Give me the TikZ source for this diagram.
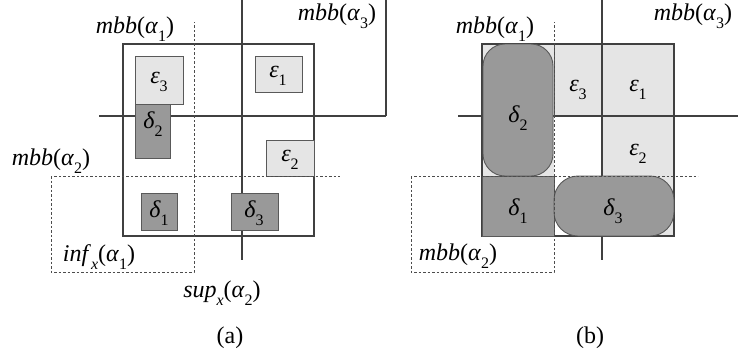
\documentclass[tikz,border=0pt]{standalone}
\usepackage{fontspec}
\setmainfont{Liberation Serif}
\newcommand{\gi}[1]{\textit{#1}}
\newcommand{\sbs}[1]{\raisebox{-0.33em}{\fontsize{16}{16}\selectfont #1}}
\begin{document}
\begin{tikzpicture}[x=1pt,y=-1pt,
  solidline/.style={draw=black!75, line width=1.2pt},
  dashline/.style={draw=black!70, line width=0.8pt, dash pattern=on 2.5pt off 2pt},
  light/.style={fill=black!10, draw=black!65, line width=0.9pt},
  dark/.style={fill=black!40, draw=black!65, line width=0.9pt},
  lbl/.style={inner sep=0pt, font=\fontsize{24}{28}\selectfont},
  captxt/.style={inner sep=0pt, font=\fontsize{24}{28}\selectfont}]
\useasboundingbox (0,0) rectangle (738,360);
% ---------------- panel (a)
\draw[solidline] (123,44) rectangle (314,236);
\draw[solidline] (242,0) -- (242,260);
\draw[solidline] (99,116) -- (386,116);
\draw[solidline] (386,0) -- (386,116);
\draw[light] (135,56) rectangle (183,104);
\draw[dark] (135,104) rectangle (170,158);
\draw[light] (255,56) rectangle (302,92);
\draw[light] (266,140) rectangle (314,176);
\draw[dark] (141,193) rectangle (177,230);
\draw[dark] (231,193) rectangle (278,230);
\draw[dashline] (51,176) rectangle (194,272);
\draw[dashline] (194,176) -- (194,22);
\draw[dashline] (194,176) -- (340,176);
\node[lbl] (ae3) at (159,82) {\gi{ε}\sbs{3}};
\node[lbl] (ad2) at (153,124) {\gi{δ}\sbs{2}};
\node[lbl] (ae1) at (278,76) {\gi{ε}\sbs{1}};
\node[lbl] (ae2) at (290,160) {\gi{ε}\sbs{2}};
\node[lbl] (ad1) at (159,213) {\gi{δ}\sbs{1}};
\node[lbl] (ad3) at (254,213) {\gi{δ}\sbs{3}};
\node[lbl] (amb1) at (135,29) {\gi{mbb}(\gi{α}\sbs{1})};
\node[lbl] (amb3) at (337,16) {\gi{mbb}(\gi{α}\sbs{3})};
\node[lbl] (amb2) at (51,161) {\gi{mbb}(\gi{α}\sbs{2})};
\node[lbl] (ainf) at (99,257) {\gi{inf}\sbs{\gi{x}}(\gi{α}\sbs{1})};
\node[lbl] (asup) at (222,293) {\gi{sup}\sbs{\gi{x}}(\gi{α}\sbs{2})};
\node[captxt] (capa) at (230,338) {(a)};
% ---------------- panel (b)
\fill[black!10] (482,44) rectangle (554,176);
\fill[black!10] (554,44) rectangle (602,116);
\fill[black!10] (602,44) rectangle (674,236);
\draw[solidline] (482,44) rectangle (674,236);
\draw[solidline] (602,0) -- (602,260);
\draw[solidline] (458,116) -- (738,116);
\draw[draw=black!65, line width=0.9pt] (554,44) -- (554,116);
\draw[dark] (482,176) rectangle (554,236);
\draw[dark, rounded corners=22pt] (483,44) rectangle (553,176);
\draw[dark, rounded corners=24pt] (554,176) rectangle (674,236);
\draw[dashline] (411,176) rectangle (554,272);
\draw[dashline] (554,176) -- (554,22);
\draw[dashline] (554,176) -- (698,176);
\node[lbl] (be3) at (578,90) {\gi{ε}\sbs{3}};
\node[lbl] (be1) at (638,90) {\gi{ε}\sbs{1}};
\node[lbl] (bd2) at (518,118) {\gi{δ}\sbs{2}};
\node[lbl] (be2) at (638,154) {\gi{ε}\sbs{2}};
\node[lbl] (bd1) at (518,211) {\gi{δ}\sbs{1}};
\node[lbl] (bd3) at (613,211) {\gi{δ}\sbs{3}};
\node[lbl] (bmb1) at (495,29) {\gi{mbb}(\gi{α}\sbs{1})};
\node[lbl] (bmb3) at (693,16) {\gi{mbb}(\gi{α}\sbs{3})};
\node[lbl] (bmb2) at (458,256) {\gi{mbb}(\gi{α}\sbs{2})};
\node[captxt] (capb) at (590,338) {(b)};
\end{tikzpicture}
\end{document}
